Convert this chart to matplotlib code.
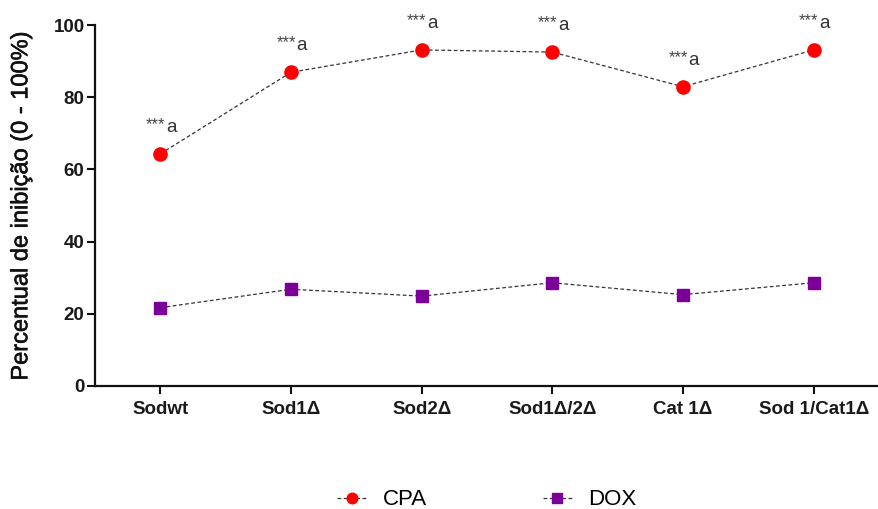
import matplotlib
matplotlib.use("Agg")
import matplotlib.pyplot as plt
import matplotlib.patheffects as pe

categories = ["Sodwt", "Sod1Δ", "Sod2Δ", "Sod1Δ/2Δ", "Cat 1Δ", "Sod 1/Cat1Δ"]
cpa = [64.3, 86.9, 93.1, 92.5, 82.9, 93.1]
dox = [21.7, 26.8, 24.9, 28.6, 25.3, 28.6]
annot_star = ["***"] * 6
annot_letter = ["a"] * 6
yticks = [0, 20, 40, 60, 80, 100]

plt.rcParams['font.family'] = ['Liberation Sans', 'DejaVu Sans']

fig = plt.figure(figsize=(8.79, 5.09), dpi=100)
ax = fig.add_axes([95/879, 1-386/509, 1-95/879, (386-25)/509])

x = list(range(len(categories)))
ax.plot(x, cpa, linestyle=(0, (3, 2)), color='#333333', linewidth=0.9,
        marker='o', markersize=9.5, markerfacecolor='#ff0000', markeredgecolor='#ff0000',
        label='CPA')
ax.plot(x, dox, linestyle=(0, (3, 2)), color='#333333', linewidth=0.9,
        marker='s', markersize=9, markerfacecolor='#7a0099', markeredgecolor='#7a0099',
        label='DOX')

for xi, yi, s, l in zip(x, cpa, annot_star, annot_letter):
    ax.annotate(s, (xi, yi), xytext=(3.5, 18), textcoords='offset points',
                ha='right', va='baseline', fontsize=12, color='#444444')
    ax.annotate(l, (xi, yi), xytext=(4, 16), textcoords='offset points',
                ha='left', va='baseline', fontsize=13.5, color='#333333')

ax.set_xlim(-0.5, 5.5)
ax.set_ylim(0, 100)
ax.set_yticks(yticks)
ax.set_xticks(x)
ax.set_xticklabels(categories, fontsize=13.5, fontweight='bold', color='#1a1a1a')
for lab in ax.get_yticklabels():
    lab.set_fontsize(13.5)
    lab.set_fontweight('bold')
    lab.set_color('#1a1a1a')

for sp in ['top', 'right']:
    ax.spines[sp].set_visible(False)
for sp in ['left', 'bottom']:
    ax.spines[sp].set_linewidth(1.6)
    ax.spines[sp].set_color('#111111')
ax.tick_params(axis='both', length=6, width=1.5, color='#111111')
ax.tick_params(axis='y', pad=1.5)
ax.tick_params(axis='x', pad=5)

yl = ax.set_ylabel('Percentual de inibição (0 - 100%)', fontsize=17, color='#111111')
yl.set_path_effects([pe.withStroke(linewidth=0.4, foreground='#111111')])
ax.yaxis.set_label_coords(-0.080, 0.5)

fig.legend(loc='center', bbox_to_anchor=(0.554, 0.018), ncol=2, frameon=False,
           fontsize=16, handlelength=1.3, columnspacing=5.2, handletextpad=0.75,
           markerscale=0.8)

fig.savefig('out.png', dpi=100)
